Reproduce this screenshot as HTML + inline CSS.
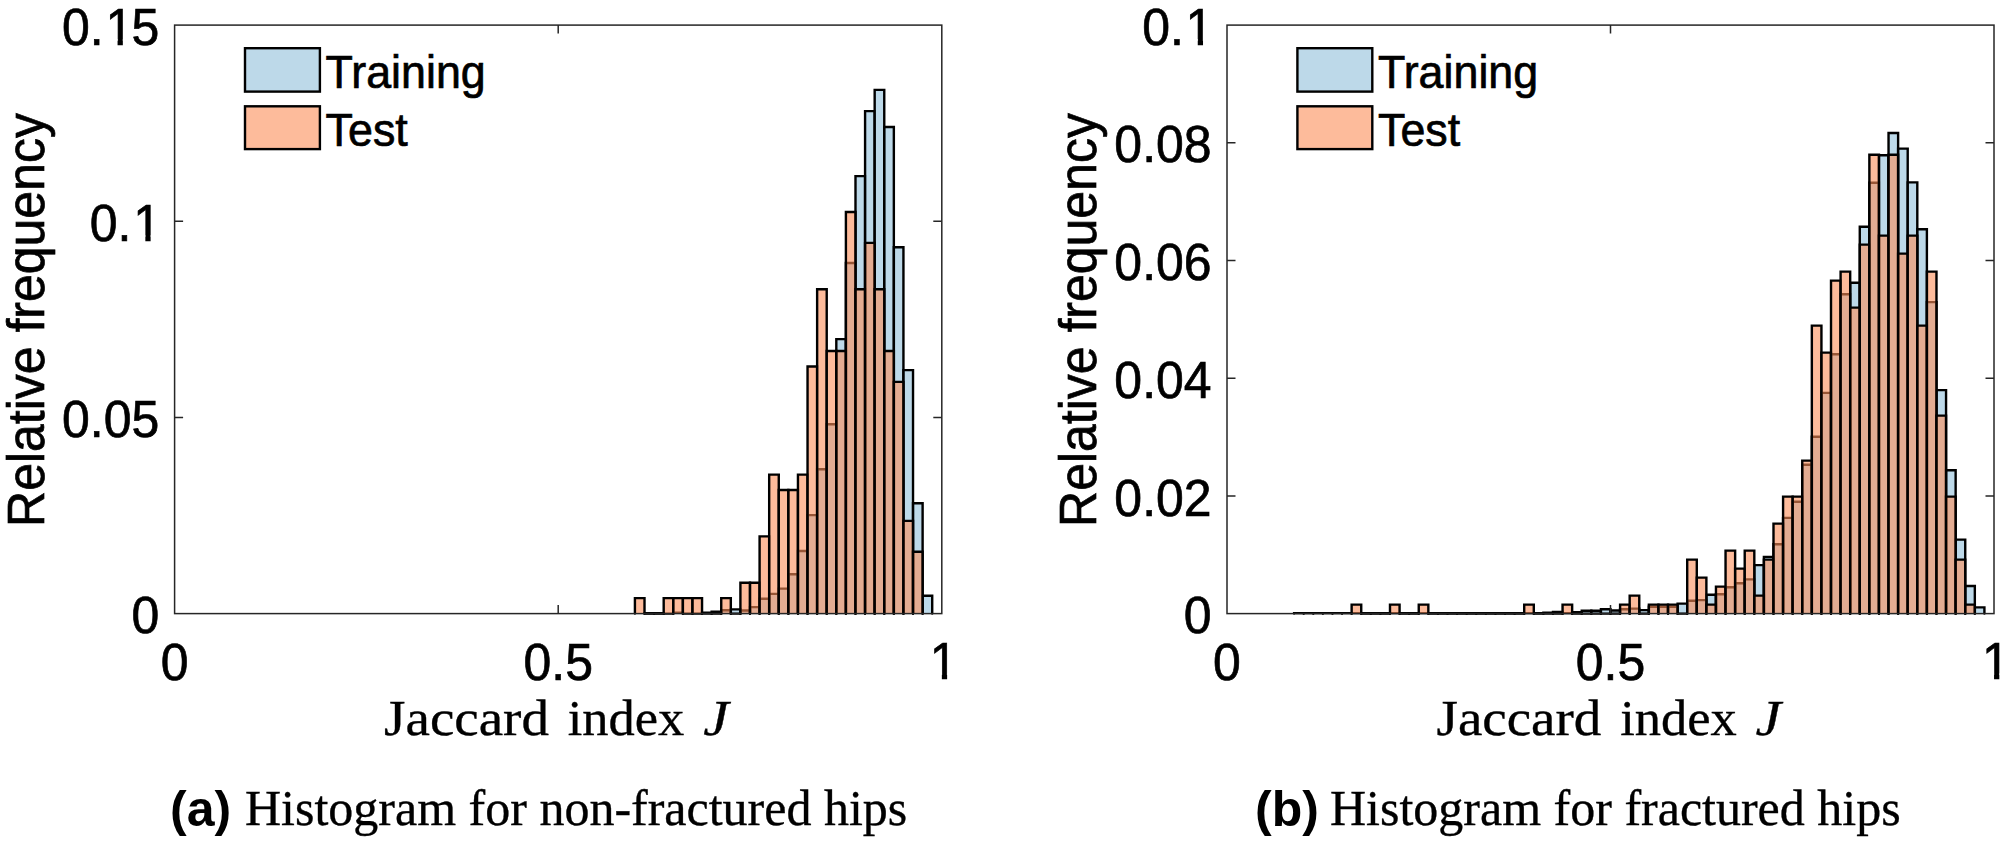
<!DOCTYPE html>
<html lang="en">
<head>
<meta charset="utf-8">
<title>Jaccard index histograms</title>
<style>
html,body{margin:0;padding:0;background:#fff;}
body{width:2006px;height:845px;overflow:hidden;}
svg{display:block;}
text{fill:#000;}
.tk text{font-kerning:none;}
.tk text,.lg text,.yl{stroke:#000;stroke-width:0.7px;}
.cap,.xl{stroke:#000;stroke-width:0.35px;}
.tk text{font-family:"Liberation Sans",sans-serif;font-size:52.6px;}
.lg text{font-family:"Liberation Sans",sans-serif;font-size:46.1px;}
.yl{font-family:"Liberation Sans",sans-serif;font-size:52.6px;}
.xl{font-family:"Liberation Serif",serif;font-size:50px;}
.xi{font-style:italic;}
.cap{font-family:"Liberation Serif",serif;font-size:50px;}
.capb{font-family:"Liberation Sans",sans-serif;font-weight:bold;font-size:50px;}
</style>
</head>
<body>
<svg width="2006" height="845" viewBox="0 0 2006 845">
<rect width="2006" height="845" fill="#fff"/>
<g id="left">
<g fill="#91bfdb" fill-opacity="0.6" stroke="#000" stroke-width="2.4" stroke-linejoin="miter" stroke-linecap="round">
<path d="M644.51 613.6V613.2H654.1V613.6"/>
<path d="M654.1 613.6V613.2H663.69V613.6"/>
<path d="M663.69 613.6V613.6H673.28V613.6"/>
<path d="M673.28 613.6V612.7H682.87V613.6"/>
<path d="M682.87 613.6V613.6H692.46V613.6"/>
<path d="M692.46 613.6V613.6H702.05V613.6"/>
<path d="M702.05 613.6V612.7H711.64V613.6"/>
<path d="M711.64 613.6V611.8H721.23V613.6"/>
<path d="M721.23 613.6V610.3H730.82V613.6"/>
<path d="M730.82 613.6V609.4H740.41V613.6"/>
<path d="M740.41 613.6V610.5H750V613.6"/>
<path d="M750 613.6V607.1H759.59V613.6"/>
<path d="M759.59 613.6V598.8H769.18V613.6"/>
<path d="M769.18 613.6V593.9H778.77V613.6"/>
<path d="M778.77 613.6V588.6H788.36V613.6"/>
<path d="M788.36 613.6V574.3H797.95V613.6"/>
<path d="M797.95 613.6V551H807.54V613.6"/>
<path d="M807.54 613.6V515.1H817.13V613.6"/>
<path d="M817.13 613.6V469.2H826.72V613.6"/>
<path d="M826.72 613.6V424.3H836.31V613.6"/>
<path d="M836.31 613.6V339.1H845.9V613.6"/>
<path d="M845.9 613.6V263H855.49V613.6"/>
<path d="M855.49 613.6V176.1H865.08V613.6"/>
<path d="M865.08 613.6V111.1H874.67V613.6"/>
<path d="M874.67 613.6V89.9H884.26V613.6"/>
<path d="M884.26 613.6V127H893.85V613.6"/>
<path d="M893.85 613.6V247.3H903.44V613.6"/>
<path d="M903.44 613.6V370.1H913.03V613.6"/>
<path d="M913.03 613.6V503.3H922.62V613.6"/>
<path d="M922.62 613.6V595.8H932.21V613.6"/>
</g>
<g fill="#fc8d59" fill-opacity="0.6" stroke="#000" stroke-width="2.4" stroke-linejoin="miter" stroke-linecap="round">
<path d="M634.92 613.6V598.15H644.51V613.6"/>
<path d="M644.51 613.6V613.6H654.1V613.6"/>
<path d="M654.1 613.6V613.6H663.69V613.6"/>
<path d="M663.69 613.6V598.15H673.28V613.6"/>
<path d="M673.28 613.6V598.15H682.87V613.6"/>
<path d="M682.87 613.6V598.15H692.46V613.6"/>
<path d="M692.46 613.6V598.15H702.05V613.6"/>
<path d="M702.05 613.6V613.6H711.64V613.6"/>
<path d="M711.64 613.6V613.6H721.23V613.6"/>
<path d="M721.23 613.6V598.15H730.82V613.6"/>
<path d="M730.82 613.6V613.6H740.41V613.6"/>
<path d="M740.41 613.6V582.71H750V613.6"/>
<path d="M750 613.6V582.71H759.59V613.6"/>
<path d="M759.59 613.6V536.37H769.18V613.6"/>
<path d="M769.18 613.6V474.58H778.77V613.6"/>
<path d="M778.77 613.6V490.03H788.36V613.6"/>
<path d="M788.36 613.6V490.03H797.95V613.6"/>
<path d="M797.95 613.6V474.58H807.54V613.6"/>
<path d="M807.54 613.6V366.46H817.13V613.6"/>
<path d="M817.13 613.6V289.23H826.72V613.6"/>
<path d="M826.72 613.6V351.01H836.31V613.6"/>
<path d="M836.31 613.6V351.01H845.9V613.6"/>
<path d="M845.9 613.6V212H855.49V613.6"/>
<path d="M855.49 613.6V289.23H865.08V613.6"/>
<path d="M865.08 613.6V242.89H874.67V613.6"/>
<path d="M874.67 613.6V289.23H884.26V613.6"/>
<path d="M884.26 613.6V351.01H893.85V613.6"/>
<path d="M893.85 613.6V381.91H903.44V613.6"/>
<path d="M903.44 613.6V520.92H913.03V613.6"/>
<path d="M913.03 613.6V551.82H922.62V613.6"/>
</g>
<g stroke="#262626" stroke-width="1.5" fill="none" stroke-linecap="butt">
<rect x="174.6" y="25.1" width="767.2" height="588.5"/>
<path d="M558.2 613.6V605.1 M558.2 25.1V33.6"/>
<path d="M174.6 417.43H183.1 M941.8 417.43H933.3"/>
<path d="M174.6 221.27H183.1 M941.8 221.27H933.3"/>
</g>
<g class="tk">
<g transform="translate(159.2 633.2) scale(0.95 1)"><text x="-29.25" y="0">0</text></g>
<g transform="translate(159.2 437.03) scale(0.95 1)"><text x="-102.37" y="0">0.05</text></g>
<g transform="translate(159.2 240.87) scale(0.95 1)"><text x="-73.12" y="0">0.<tspan dx="1.9">1</tspan></text><g fill="#fff" stroke="none"><rect x="-25.35" y="-5.63" width="10.77" height="7.63"/><rect x="-9.03" y="-5.63" width="10.36" height="7.63"/></g></g>
<g transform="translate(159.2 44.7) scale(0.95 1)"><text x="-102.37" y="0">0.<tspan dx="1.9">1</tspan><tspan dx="-1.9">5</tspan></text><g fill="#fff" stroke="none"><rect x="-54.6" y="-5.63" width="10.77" height="7.63"/><rect x="-38.28" y="-5.63" width="10.36" height="7.63"/></g></g>
<g transform="translate(174.6 679.6) scale(0.95 1)"><text x="-14.63" y="0">0</text></g>
<g transform="translate(558.2 679.6) scale(0.95 1)"><text x="-36.56" y="0">0.5</text></g>
<g transform="translate(941.8 679.1) scale(0.95 1)"><text x="-14.63" y="0"><tspan dx="1.9">1</tspan></text><g fill="#fff" stroke="none"><rect x="-10.72" y="-5.63" width="10.77" height="7.63"/><rect x="5.6" y="-5.63" width="10.36" height="7.63"/></g></g>
</g>
<g stroke="#000" stroke-width="2.4" fill-opacity="0.6">
<rect x="245" y="48.2" width="74.9" height="43.4" fill="#91bfdb"/>
<rect x="245" y="106.3" width="74.9" height="42.8" fill="#fc8d59"/>
</g>
<g class="lg">
<text transform="translate(325.6 87.5) scale(0.972 1)">Training</text>
<text transform="translate(325.6 145.6) scale(0.972 1)">Test</text>
</g>
<text class="yl" transform="translate(43.8 320) rotate(-90) scale(0.95 1)" text-anchor="middle">Relative frequency</text>
<text class="xl" x="384.1" y="734.7" textLength="164.8" lengthAdjust="spacingAndGlyphs">Jaccard</text>
<text class="xl" x="567.8" y="734.7" textLength="116.5" lengthAdjust="spacingAndGlyphs">index</text>
<text class="xl xi" x="703.2" y="734.7" textLength="25.5" lengthAdjust="spacingAndGlyphs">J</text>
<text class="capb" x="170" y="825.6">(a)</text>
<text class="cap" x="245" y="825.4">Histogram for non-fractured hips</text>
</g>
<g id="right">
<g fill="#91bfdb" fill-opacity="0.6" stroke="#000" stroke-width="2.4" stroke-linejoin="miter" stroke-linecap="round">
<path d="M1294.11 613.6V613.1H1303.7V613.6"/>
<path d="M1303.7 613.6V613.1H1313.29V613.6"/>
<path d="M1313.29 613.6V613.1H1322.88V613.6"/>
<path d="M1322.88 613.6V613.1H1332.46V613.6"/>
<path d="M1332.46 613.6V613.1H1342.05V613.6"/>
<path d="M1342.05 613.6V613.1H1351.64V613.6"/>
<path d="M1351.64 613.6V613.1H1361.23V613.6"/>
<path d="M1361.22 613.6V613.1H1370.81V613.6"/>
<path d="M1370.81 613.6V613.1H1380.4V613.6"/>
<path d="M1380.4 613.6V613.1H1389.99V613.6"/>
<path d="M1389.99 613.6V613.1H1399.58V613.6"/>
<path d="M1399.58 613.6V613.1H1409.16V613.6"/>
<path d="M1409.16 613.6V613.1H1418.75V613.6"/>
<path d="M1418.75 613.6V613.1H1428.34V613.6"/>
<path d="M1428.34 613.6V613.1H1437.93V613.6"/>
<path d="M1437.92 613.6V613.1H1447.51V613.6"/>
<path d="M1447.51 613.6V613.1H1457.1V613.6"/>
<path d="M1457.1 613.6V613.1H1466.69V613.6"/>
<path d="M1466.69 613.6V613.1H1476.28V613.6"/>
<path d="M1476.28 613.6V613.1H1485.86V613.6"/>
<path d="M1485.86 613.6V613.1H1495.45V613.6"/>
<path d="M1495.45 613.6V613.1H1505.04V613.6"/>
<path d="M1505.04 613.6V613.1H1514.62V613.6"/>
<path d="M1514.62 613.6V613.1H1524.21V613.6"/>
<path d="M1524.21 613.6V613.1H1533.8V613.6"/>
<path d="M1533.8 613.6V613.1H1543.39V613.6"/>
<path d="M1543.39 613.6V612.7H1552.98V613.6"/>
<path d="M1552.97 613.6V612H1562.56V613.6"/>
<path d="M1562.56 613.6V613.1H1572.15V613.6"/>
<path d="M1572.15 613.6V612.3H1581.74V613.6"/>
<path d="M1581.74 613.6V610.7H1591.33V613.6"/>
<path d="M1591.33 613.6V610.7H1600.91V613.6"/>
<path d="M1600.91 613.6V609.3H1610.5V613.6"/>
<path d="M1610.5 613.6V610.5H1620.09V613.6"/>
<path d="M1620.09 613.6V609.2H1629.68V613.6"/>
<path d="M1629.67 613.6V608.6H1639.26V613.6"/>
<path d="M1639.26 613.6V610.1H1648.85V613.6"/>
<path d="M1648.85 613.6V606.7H1658.44V613.6"/>
<path d="M1658.44 613.6V606.7H1668.03V613.6"/>
<path d="M1668.03 613.6V606.7H1677.61V613.6"/>
<path d="M1677.61 613.6V603.6H1687.2V613.6"/>
<path d="M1687.2 613.6V600.8H1696.79V613.6"/>
<path d="M1696.79 613.6V600.1H1706.38V613.6"/>
<path d="M1706.38 613.6V594.7H1715.96V613.6"/>
<path d="M1715.96 613.6V594.2H1725.55V613.6"/>
<path d="M1725.55 613.6V587.3H1735.14V613.6"/>
<path d="M1735.14 613.6V583.2H1744.73V613.6"/>
<path d="M1744.72 613.6V579.4H1754.31V613.6"/>
<path d="M1754.31 613.6V565.1H1763.9V613.6"/>
<path d="M1763.9 613.6V556.9H1773.49V613.6"/>
<path d="M1773.49 613.6V544.2H1783.08V613.6"/>
<path d="M1783.08 613.6V517.9H1792.66V613.6"/>
<path d="M1792.66 613.6V501.8H1802.25V613.6"/>
<path d="M1802.25 613.6V464.8H1811.84V613.6"/>
<path d="M1811.84 613.6V436.8H1821.43V613.6"/>
<path d="M1821.43 613.6V392.9H1831.01V613.6"/>
<path d="M1831.01 613.6V354.2H1840.6V613.6"/>
<path d="M1840.6 613.6V294.2H1850.19V613.6"/>
<path d="M1850.19 613.6V282.7H1859.78V613.6"/>
<path d="M1859.78 613.6V226.8H1869.36V613.6"/>
<path d="M1869.36 613.6V182.8H1878.95V613.6"/>
<path d="M1878.95 613.6V155.2H1888.54V613.6"/>
<path d="M1888.54 613.6V133H1898.12V613.6"/>
<path d="M1898.12 613.6V148.6H1907.71V613.6"/>
<path d="M1907.71 613.6V182.4H1917.3V613.6"/>
<path d="M1917.3 613.6V229.2H1926.89V613.6"/>
<path d="M1926.89 613.6V302.1H1936.48V613.6"/>
<path d="M1936.47 613.6V390.1H1946.06V613.6"/>
<path d="M1946.06 613.6V470.2H1955.65V613.6"/>
<path d="M1955.65 613.6V539.6H1965.24V613.6"/>
<path d="M1965.24 613.6V586H1974.83V613.6"/>
<path d="M1974.83 613.6V607.4H1984.41V613.6"/>
</g>
<g fill="#fc8d59" fill-opacity="0.6" stroke="#000" stroke-width="2.4" stroke-linejoin="miter" stroke-linecap="round">
<path d="M1351.64 613.6V604.6H1361.23V613.6"/>
<path d="M1361.22 613.6V613.6H1370.81V613.6"/>
<path d="M1370.81 613.6V613.6H1380.4V613.6"/>
<path d="M1380.4 613.6V613.6H1389.99V613.6"/>
<path d="M1389.99 613.6V604.6H1399.58V613.6"/>
<path d="M1399.58 613.6V613.6H1409.16V613.6"/>
<path d="M1409.16 613.6V613.6H1418.75V613.6"/>
<path d="M1418.75 613.6V604.6H1428.34V613.6"/>
<path d="M1428.34 613.6V613.6H1437.93V613.6"/>
<path d="M1437.92 613.6V613.6H1447.51V613.6"/>
<path d="M1447.51 613.6V613.6H1457.1V613.6"/>
<path d="M1457.1 613.6V613.6H1466.69V613.6"/>
<path d="M1466.69 613.6V613.6H1476.28V613.6"/>
<path d="M1476.28 613.6V613.6H1485.86V613.6"/>
<path d="M1485.86 613.6V613.6H1495.45V613.6"/>
<path d="M1495.45 613.6V613.6H1505.04V613.6"/>
<path d="M1505.04 613.6V613.6H1514.62V613.6"/>
<path d="M1514.62 613.6V613.6H1524.21V613.6"/>
<path d="M1524.21 613.6V604.6H1533.8V613.6"/>
<path d="M1533.8 613.6V613.6H1543.39V613.6"/>
<path d="M1543.39 613.6V613.6H1552.98V613.6"/>
<path d="M1552.97 613.6V613.6H1562.56V613.6"/>
<path d="M1562.56 613.6V604.6H1572.15V613.6"/>
<path d="M1572.15 613.6V613.6H1581.74V613.6"/>
<path d="M1581.74 613.6V613.6H1591.33V613.6"/>
<path d="M1591.33 613.6V613.6H1600.91V613.6"/>
<path d="M1600.91 613.6V613.6H1610.5V613.6"/>
<path d="M1610.5 613.6V613.6H1620.09V613.6"/>
<path d="M1620.09 613.6V604.6H1629.68V613.6"/>
<path d="M1629.67 613.6V595.6H1639.26V613.6"/>
<path d="M1639.26 613.6V613.6H1648.85V613.6"/>
<path d="M1648.85 613.6V604.6H1658.44V613.6"/>
<path d="M1658.44 613.6V604.6H1668.03V613.6"/>
<path d="M1668.03 613.6V604.6H1677.61V613.6"/>
<path d="M1677.61 613.6V613.6H1687.2V613.6"/>
<path d="M1687.2 613.6V559.61H1696.79V613.6"/>
<path d="M1696.79 613.6V577.61H1706.38V613.6"/>
<path d="M1706.38 613.6V604.6H1715.96V613.6"/>
<path d="M1715.96 613.6V586.6H1725.55V613.6"/>
<path d="M1725.55 613.6V550.61H1735.14V613.6"/>
<path d="M1735.14 613.6V568.61H1744.73V613.6"/>
<path d="M1744.72 613.6V550.61H1754.31V613.6"/>
<path d="M1754.31 613.6V595.6H1763.9V613.6"/>
<path d="M1763.9 613.6V559.61H1773.49V613.6"/>
<path d="M1773.49 613.6V523.62H1783.08V613.6"/>
<path d="M1783.08 613.6V496.62H1792.66V613.6"/>
<path d="M1792.66 613.6V496.62H1802.25V613.6"/>
<path d="M1802.25 613.6V460.63H1811.84V613.6"/>
<path d="M1811.84 613.6V325.65H1821.43V613.6"/>
<path d="M1821.43 613.6V352.64H1831.01V613.6"/>
<path d="M1831.01 613.6V280.66H1840.6V613.6"/>
<path d="M1840.6 613.6V271.66H1850.19V613.6"/>
<path d="M1850.19 613.6V307.65H1859.78V613.6"/>
<path d="M1859.78 613.6V244.66H1869.36V613.6"/>
<path d="M1869.36 613.6V154.68H1878.95V613.6"/>
<path d="M1878.95 613.6V235.66H1888.54V613.6"/>
<path d="M1888.54 613.6V154.68H1898.12V613.6"/>
<path d="M1898.12 613.6V253.66H1907.71V613.6"/>
<path d="M1907.71 613.6V235.66H1917.3V613.6"/>
<path d="M1917.3 613.6V325.65H1926.89V613.6"/>
<path d="M1926.89 613.6V271.66H1936.48V613.6"/>
<path d="M1936.47 613.6V415.63H1946.06V613.6"/>
<path d="M1946.06 613.6V496.62H1955.65V613.6"/>
<path d="M1955.65 613.6V559.61H1965.24V613.6"/>
<path d="M1965.24 613.6V604.6H1974.83V613.6"/>
</g>
<g stroke="#262626" stroke-width="1.5" fill="none" stroke-linecap="butt">
<rect x="1227" y="25.1" width="767" height="588.5"/>
<path d="M1610.5 613.6V605.1 M1610.5 25.1V33.6"/>
<path d="M1227 495.9H1235.5 M1994 495.9H1985.5"/>
<path d="M1227 378.2H1235.5 M1994 378.2H1985.5"/>
<path d="M1227 260.5H1235.5 M1994 260.5H1985.5"/>
<path d="M1227 142.8H1235.5 M1994 142.8H1985.5"/>
</g>
<g class="tk">
<g transform="translate(1211.6 633.2) scale(0.95 1)"><text x="-29.25" y="0">0</text></g>
<g transform="translate(1211.6 515.5) scale(0.95 1)"><text x="-102.37" y="0">0.02</text></g>
<g transform="translate(1211.6 397.8) scale(0.95 1)"><text x="-102.37" y="0">0.04</text></g>
<g transform="translate(1211.6 280.1) scale(0.95 1)"><text x="-102.37" y="0">0.06</text></g>
<g transform="translate(1211.6 162.4) scale(0.95 1)"><text x="-102.37" y="0">0.08</text></g>
<g transform="translate(1211.6 44.7) scale(0.95 1)"><text x="-73.12" y="0">0.<tspan dx="1.9">1</tspan></text><g fill="#fff" stroke="none"><rect x="-25.35" y="-5.63" width="10.77" height="7.63"/><rect x="-9.03" y="-5.63" width="10.36" height="7.63"/></g></g>
<g transform="translate(1227 679.6) scale(0.95 1)"><text x="-14.63" y="0">0</text></g>
<g transform="translate(1610.5 679.6) scale(0.95 1)"><text x="-36.56" y="0">0.5</text></g>
<g transform="translate(1994 679.1) scale(0.95 1)"><text x="-14.63" y="0"><tspan dx="1.9">1</tspan></text><g fill="#fff" stroke="none"><rect x="-10.72" y="-5.63" width="10.77" height="7.63"/><rect x="5.6" y="-5.63" width="10.36" height="7.63"/></g></g>
</g>
<g stroke="#000" stroke-width="2.4" fill-opacity="0.6">
<rect x="1297.4" y="48.2" width="74.9" height="43.4" fill="#91bfdb"/>
<rect x="1297.4" y="106.3" width="74.9" height="42.8" fill="#fc8d59"/>
</g>
<g class="lg">
<text transform="translate(1378 87.5) scale(0.972 1)">Training</text>
<text transform="translate(1378 145.6) scale(0.972 1)">Test</text>
</g>
<text class="yl" transform="translate(1096.2 320) rotate(-90) scale(0.95 1)" text-anchor="middle">Relative frequency</text>
<text class="xl" x="1436.5" y="734.7" textLength="164.8" lengthAdjust="spacingAndGlyphs">Jaccard</text>
<text class="xl" x="1620.2" y="734.7" textLength="116.5" lengthAdjust="spacingAndGlyphs">index</text>
<text class="xl xi" x="1755.6" y="734.7" textLength="25.5" lengthAdjust="spacingAndGlyphs">J</text>
<text class="capb" x="1255" y="825.6">(b)</text>
<text class="cap" x="1330" y="825.4">Histogram for fractured hips</text>
</g>
</svg>
</body>
</html>
